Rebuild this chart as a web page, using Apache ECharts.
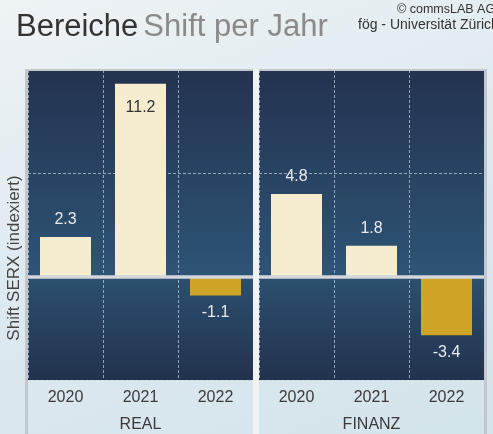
<!DOCTYPE html>
<html>
<head>
<meta charset="utf-8">
<script src="https://cdn.jsdelivr.net/npm/echarts@6/dist/echarts.min.js"></script>
<style>
html,body{margin:0;padding:0;}
#chart{width:493px;height:434px;background:linear-gradient(160deg,#eef3f6 0%,#dfeaf0 45%,#d4e4eb 100%);}
</style>
</head>
<body>
<div id="chart"></div>
<script>
var categories = ['2020', '2021', '2022'];
var panels = ['REAL', 'FINANZ'];
var realValues = [2.3, 11.2, -1.1];
var finanzValues = [4.8, 1.8, -3.4];
var yTicks = [-6, 0, 6, 12];

var FONT = '"Liberation Sans", Arial, Helvetica, sans-serif';
var POS = '#F6EDD1', NEG = '#CFA527';

function items(vals) {
  return vals.map(function (v) {
    var inside = v > 9;
    return {
      value: v,
      itemStyle: { color: v >= 0 ? POS : NEG },
      label: {
        position: inside ? 'insideTop' : (v >= 0 ? 'top' : 'bottom'),
        distance: inside ? 16 : 9,
        color: inside ? '#333333' : '#E6EAEE'
      }
    };
  });
}

var bgGrad = new echarts.graphic.LinearGradient(0, 0, 0, 1, [
  { offset: 0, color: '#233350' },
  { offset: 0.665, color: '#2E5475' },
  { offset: 0.675, color: '#2C4F6F' },
  { offset: 1, color: '#22324D' }
]);

function gridDef(left) {
  return { left: left, width: 225, top: 70, height: 310, show: true, backgroundColor: bgGrad, borderWidth: 0,
           containLabel: false, outerBoundsMode: 'none' };
}
function xAxisDef(idx, name) {
  return {
    type: 'category', gridIndex: idx, data: categories,
    name: name, nameLocation: 'middle', nameGap: 37,
    nameTextStyle: { fontSize: 16, color: '#3A3A3A', fontFamily: FONT },
    axisLine: { show: false }, axisTick: { show: false },
    axisLabel: { fontSize: 16, color: '#3A3A3A', margin: 10, fontFamily: FONT },
    splitLine: { show: true, lineStyle: { color: 'rgba(200,210,222,0.7)', type: [3, 2], width: 1 } }
  };
}
function yAxisDef(idx) {
  return {
    type: 'value', gridIndex: idx, min: yTicks[0], max: yTicks[yTicks.length - 1], interval: yTicks[1] - yTicks[0],
    axisLine: { show: false }, axisTick: { show: false }, axisLabel: { show: false },
    splitLine: { show: true, lineStyle: { color: 'rgba(200,210,222,0.7)', type: [3, 2], width: 1 } }
  };
}
function seriesDef(idx, vals) {
  return {
    type: 'bar', xAxisIndex: idx, yAxisIndex: idx, barWidth: '68%',
    data: items(vals),
    label: { show: true, fontSize: 16, fontFamily: FONT, formatter: function (p) { return p.value.toFixed(1); } },
    markLine: {
      silent: true, symbol: 'none', label: { show: false },
      lineStyle: { color: '#D3D7DB', width: 3.5, type: 'solid' },
      data: [{ yAxis: 0 }]
    }
  };
}

var chart = echarts.init(document.getElementById('chart'), null, { renderer: 'canvas' });
chart.setOption({
  animation: false,
  textStyle: { fontFamily: FONT },
  title: {
    left: 11, top: 7,
    text: '{a|Bereiche} {b|Shift per Jahr}',
    textStyle: { fontWeight: 'normal', rich: {
      a: { fontSize: 31, color: '#333333', fontFamily: FONT, fontWeight: 'normal' },
      b: { fontSize: 31, color: '#8A8A8A', fontFamily: FONT, fontWeight: 'normal' }
    } }
  },
  grid: [gridDef(28), gridDef(259)],
  xAxis: [xAxisDef(0, panels[0]), xAxisDef(1, panels[1])],
  yAxis: [yAxisDef(0), yAxisDef(1)],
  series: [seriesDef(0, realValues), seriesDef(1, finanzValues)],
  graphic: [
    { type: 'rect', z: 100, shape: { x: 25, y: 69, width: 462, height: 2 }, style: { fill: '#C3C7CB' } },
    { type: 'rect', z: 100, shape: { x: 25, y: 69, width: 3, height: 365 }, style: { fill: '#C3C7CB' } },
    { type: 'rect', z: 100, shape: { x: 253, y: 69, width: 6, height: 365 }, style: { fill: '#EFF1F3' } },
    { type: 'rect', z: 100, shape: { x: 484, y: 69, width: 3, height: 365 }, style: { fill: '#C3C7CB' } },
    { type: 'text', z: 100, x: 397, y: 3, style: { text: '© commsLAB AG', fontSize: 12.5, fill: '#333333', fontFamily: FONT } },
    { type: 'text', z: 100, x: 358, y: 18, style: { text: 'fög - Universität Zürich', fontSize: 14, fill: '#333333', fontFamily: FONT } },
    { type: 'text', z: 100, x: 14, y: 258, rotation: Math.PI / 2,
      style: { text: 'Shift SERX (indexiert)', fontSize: 17, fill: '#444444', fontFamily: FONT, align: 'center', verticalAlign: 'middle' } }
  ]
});
</script>
</body>
</html>
